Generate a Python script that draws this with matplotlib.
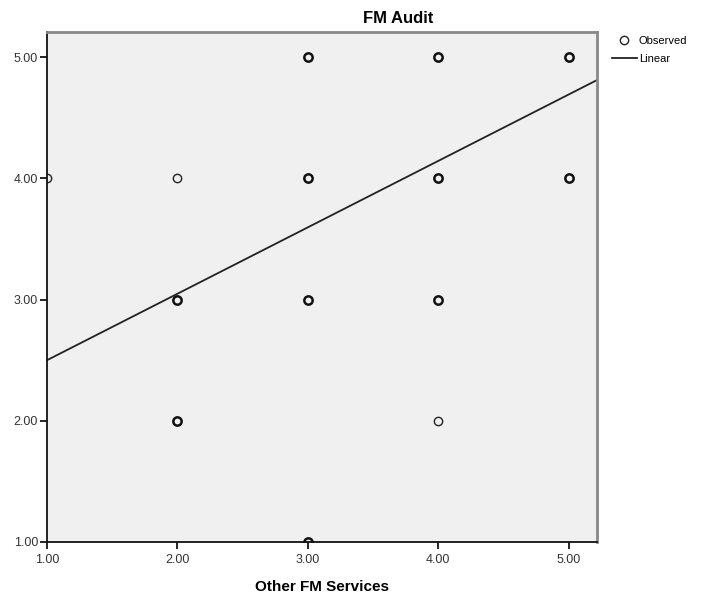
import numpy as np
import matplotlib
matplotlib.use('Agg')
import matplotlib.pyplot as plt

# observed data (grid of 1-5 ratings); multi = overlapping cases drawn bold
obs_x = [1, 2, 2, 2, 3, 3, 3, 3, 4, 4, 4, 4, 5, 5]
obs_y = [4, 4, 3, 2, 5, 4, 3, 1, 5, 4, 3, 2, 5, 4]
multi = [0, 0, 1, 1, 1, 1, 1, 1, 1, 1, 1, 0, 1, 1]

# linear fit
intercept = 1.952
slope = 0.548

ticks = [1, 2, 3, 4, 5]
tick_labels = ['1.00', '2.00', '3.00', '4.00', '5.00']

plt.rcParams['font.family'] = ['Liberation Sans', 'DejaVu Sans']

fig = plt.figure(figsize=(7.01, 6.03), dpi=100)
ax = fig.add_axes([0.0671, 0.1012, 0.7841, 0.8462])
ax.set_facecolor('#f0f0f0')

ox = np.array(obs_x)
oy = np.array(obs_y)
m = np.array(multi, dtype=bool)
ax.plot(ox[~m], oy[~m], 'o', ms=6, mfc='none', mec='#222222', mew=1.0)
ax.plot(ox[m], oy[m], 'o', ms=6, mfc='none', mec='#111111', mew=1.8)
# legend proxy
ax.plot([], [], 'o', ms=6, mfc='none', mec='#222222', mew=1.0, label='Observed')

xmin, xmax = 1.0, 5.215
xs = np.array([xmin, xmax])
ax.plot(xs, intercept + slope * xs, color='#222222', lw=1.3, label='Linear')

ax.set_xlim(xmin, xmax)
ax.set_ylim(1.0, 5.21)
ax.set_xticks(ticks)
ax.set_xticklabels(tick_labels)
ax.set_yticks(ticks)
ax.set_yticklabels(tick_labels)
ax.tick_params(direction='out', length=5, width=1.2, labelsize=9,
               labelcolor='#333333', pad=1.5)
ax.tick_params(axis='x', pad=4)

for s in ['left', 'bottom']:
    ax.spines[s].set_color('#111111')
    ax.spines[s].set_linewidth(1.3)
for s in ['top', 'right']:
    ax.spines[s].set_color('#888888')
    ax.spines[s].set_linewidth(2)

ax.set_xlabel('Other FM Services', fontsize=11, fontweight='bold', labelpad=10)
fig.text(0.568, 0.97, 'FM Audit', fontsize=12, fontweight='bold',
         ha='center', va='center')

ax.legend(loc='upper left', bbox_to_anchor=(1.02, 1.0), frameon=False,
          fontsize=8, handlelength=2.2, handletextpad=0.2, labelspacing=0.7,
          borderaxespad=0)

fig.savefig('out.png', dpi=100)
